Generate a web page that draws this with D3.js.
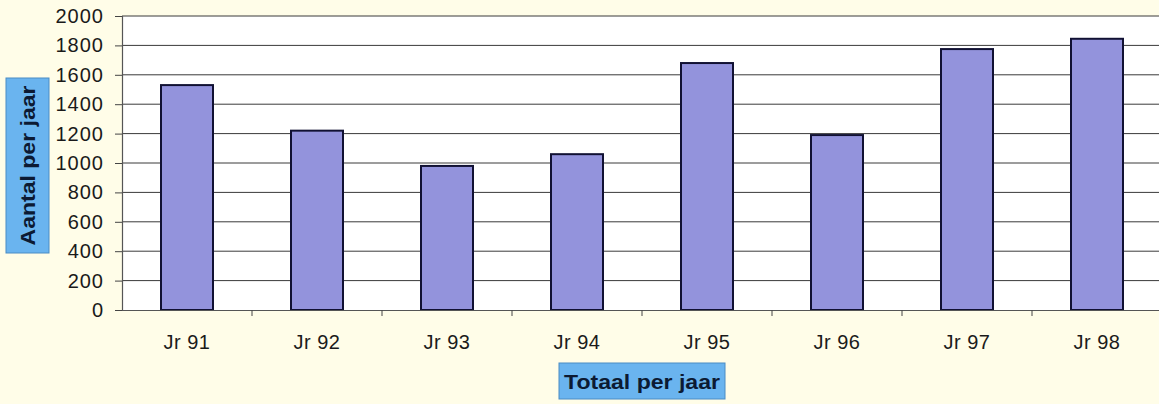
<!doctype html>
<html>
<head>
	<meta charset="utf-8">
	<title>Totaal per jaar</title>
	<script src="https://d3js.org/d3.v7.min.js"></script>
	<style>
		body { margin: 0; background: #fffde8; }
		text { font-family: "Liberation Sans", Arial, sans-serif; }
	</style>
</head>
<body>
<script>

const years = ["Jr 91", "Jr 92", "Jr 93", "Jr 94", "Jr 95", "Jr 96", "Jr 97", "Jr 98"];
const counts = [1530, 1220, 980, 1060, 1680, 1190, 1775, 1845];
const yTicks = [0, 200, 400, 600, 800, 1000, 1200, 1400, 1600, 1800, 2000];

const w = 1159;
const h = 404;
const mLeft = 122, mRight = 1162, mTop = 16, mBottom = 310;

const svg = d3.select("body").append("svg")
	.attr("width", w)
	.attr("height", h);

svg.append("rect")
	.attr("width", w).attr("height", h)
	.attr("fill", "#fffde8");

const x = d3.scaleBand()
	.domain(years)
	.range([mLeft, mRight])
	.paddingInner(0.6)
	.paddingOuter(0.3);

const y = d3.scaleLinear()
	.domain([0, 2000])
	.range([mBottom, mTop]);

// plot area
svg.append("rect")
	.attr("x", mLeft).attr("y", mTop)
	.attr("width", mRight - mLeft).attr("height", mBottom - mTop)
	.attr("fill", "#ffffff");

// gridlines
svg.append("g")
	.selectAll("line")
	.data(yTicks.filter(d => d > 0))
	.enter()
	.append("line")
	.attr("x1", mLeft).attr("x2", mRight)
	.attr("y1", d => y(d)).attr("y2", d => y(d))
	.attr("stroke", "#3a3a3a")
	.attr("stroke-width", 1);

// y axis
const yAxis = svg.append("g")
	.attr("transform", "translate(" + mLeft + ",0)")
	.call(d3.axisLeft(y).tickValues(yTicks).tickFormat(d3.format("d")).tickSize(7).tickPadding(11));

yAxis.select(".domain").attr("stroke", "#555").attr("stroke-width", 1.2);
yAxis.selectAll(".tick line").attr("stroke", "#444");
yAxis.selectAll(".tick text")
	.style("font-size", "20px")
	.style("letter-spacing", "1px")
	.attr("fill", "#1a1a1a");

// bars
svg.append("g")
	.selectAll("rect")
	.data(counts)
	.enter()
	.append("rect")
	.attr("x", (d, i) => x(years[i]))
	.attr("y", d => y(d))
	.attr("width", x.bandwidth())
	.attr("height", d => mBottom - y(d))
	.attr("fill", "#9393dc")
	.attr("stroke", "#111133")
	.attr("stroke-width", 2);

// x axis
const gap = (x.step() - x.bandwidth()) / 2;
const xAxis = svg.append("g")
	.attr("transform", "translate(0," + mBottom + ")")
	.call(d3.axisBottom(x).tickSize(0).tickPadding(25));

xAxis.select(".domain").attr("stroke", "#555").attr("stroke-width", 1.2);
xAxis.selectAll(".tick text")
	.style("font-size", "20px")
	.style("letter-spacing", "0.5px")
	.attr("fill", "#1a1a1a");

svg.append("g")
	.selectAll("line")
	.data(years.slice(1))
	.enter()
	.append("line")
	.attr("x1", d => x(d) - gap)
	.attr("x2", d => x(d) - gap)
	.attr("y1", mBottom).attr("y2", mBottom + 6)
	.attr("stroke", "#444");

// y axis title box
const yt = svg.append("g").attr("transform", "translate(27.5,165.5) rotate(-90)");
yt.append("rect")
	.attr("x", -87.5).attr("y", -21.5)
	.attr("width", 175).attr("height", 43)
	.attr("fill", "#6ab4ef")
	.attr("stroke", "#4a8cc4");
yt.append("text")
	.attr("text-anchor", "middle")
	.attr("dy", "0.36em")
	.attr("textLength", 160)
	.attr("lengthAdjust", "spacingAndGlyphs")
	.style("font-size", "21px")
	.attr("font-weight", "bold")
	.attr("fill", "#0c1a33")
	.text("Aantal per jaar");

// x axis title box
const xt = svg.append("g").attr("transform", "translate(642,381)");
xt.append("rect")
	.attr("x", -83).attr("y", -18)
	.attr("width", 166).attr("height", 36)
	.attr("fill", "#6ab4ef")
	.attr("stroke", "#4a8cc4");
xt.append("text")
	.attr("text-anchor", "middle")
	.attr("dy", "0.36em")
	.attr("textLength", 156)
	.attr("lengthAdjust", "spacingAndGlyphs")
	.style("font-size", "21px")
	.attr("font-weight", "bold")
	.attr("fill", "#0c1a33")
	.text("Totaal per jaar");

</script>
</body>
</html>
